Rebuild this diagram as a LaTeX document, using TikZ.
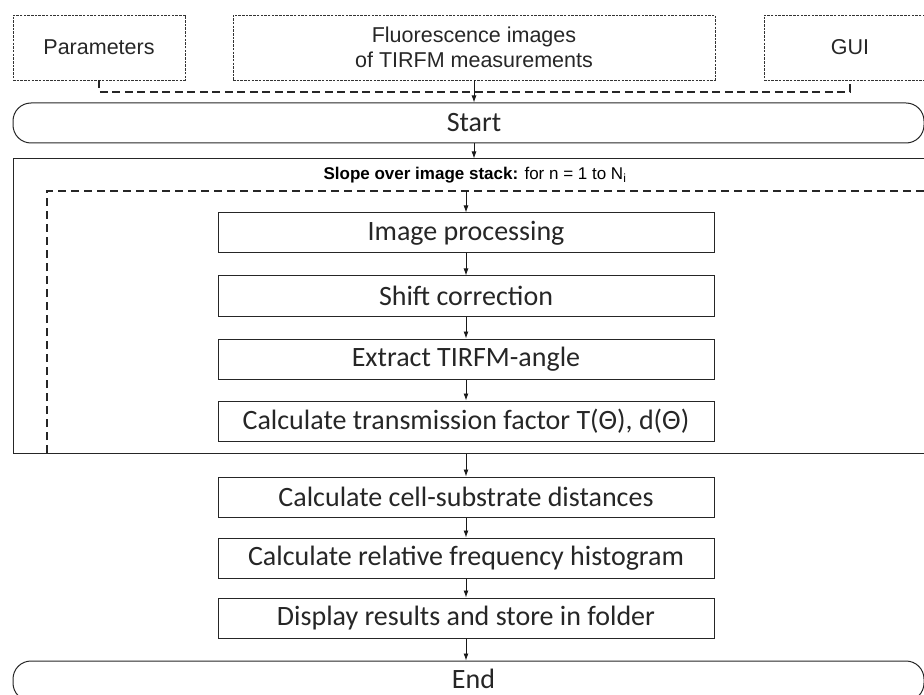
\documentclass[tikz,border=0pt]{standalone}
\usepackage{fontspec}
\setmainfont{Carlito}
\newfontfamily\arialf{Liberation Sans}
\usetikzlibrary{arrows.meta}
\begin{document}
\begin{tikzpicture}[x=1pt,y=-1pt,
  inbox/.style={draw=black!80, line width=0.9pt, dash pattern=on 2.5pt off 1.2pt, minimum height=65pt, inner sep=0pt, font=\arialf\fontsize{21.5}{25}\selectfont, align=center, text=black!85},
  procbox/.style={draw=black!85, line width=1pt, minimum width=496pt, minimum height=40pt, inner sep=0pt, font=\fontsize{28}{32}\selectfont, text=black!85},
  termbox/.style={draw=black!85, line width=1pt, rounded corners=18pt, minimum width=911pt, minimum height=40pt, inner sep=0pt},
  termtxt/.style={font=\fontsize{28}{32}\selectfont, text=black!85, inner sep=0pt},
  arr/.style={-{Latex[length=7pt,width=5pt]}, line width=0.9pt, black!90},
  dconn/.style={line width=1.7pt, dash pattern=on 8pt off 4.5pt, black!85},
  ldash/.style={line width=1.7pt, dash pattern=on 8pt off 5pt, black!85}]
\useasboundingbox (0,0) rectangle (924,695);
% input boxes
\node[inbox, minimum width=172pt] (par) at (99,47.5) {Parameters};
\node[inbox, minimum width=482pt] (flu) at (474,47.5) {Fluorescence images\\of TIRFM measurements};
\node[inbox, minimum width=172pt] (gui) at (850,47.5) {GUI};
% start
\node[termbox] (start) at (468.5,123) {};
\node[termtxt] (starttxt) at (474,123) {Start};
\coordinate (j) at (474,92);
\draw[dconn] (par.south) |- (j) -| (gui.south);
\draw[arr] (flu.south) -- (start.north -| flu.south);
% loop
\node[draw=black!85, line width=1pt, minimum width=917pt, minimum height=294pt, inner sep=0pt] (loop) at (471.5,306) {};
\draw[arr] (start.south -| flu.south) -- (loop.north -| flu.south);
\node[font=\arialf\fontsize{17}{20}\selectfont, text=black] (lbl) at (475,175) {\textbf{Slope over image stack:} for n = 1 to N\textsubscript{i}};
\coordinate (dl) at (47,453);
\coordinate (dt) at (47,191);
\coordinate (dr) at (935,191);
\draw[ldash] (dl) -- (dt) -- (dr);
% process boxes
\node[procbox] (b1) at (466,233) {Image processing};
\node[procbox] (b2) at (466,296) {Shift correction};
\node[procbox] (b3) at (466,359) {Extract TIRFM-angle};
\node[procbox] (b4) at (466,421) {Calculate transmission factor T(Θ), d(Θ)};
\node[procbox] (c1) at (466,497) {Calculate cell-substrate distances};
\node[procbox] (c2) at (466,558) {Calculate relative frequency histogram};
\node[procbox] (c3) at (466,618) {Display results and store in folder};
\node[termbox] (fin) at (468.5,681) {};
\node[termtxt] (fintxt) at (473.5,679) {End};
\coordinate (a0) at (466,191);
\draw[arr] (a0) -- (b1.north);
\draw[arr] (b1) -- (b2);
\draw[arr] (b2) -- (b3);
\draw[arr] (b3) -- (b4);
\draw[arr] (loop.south -| b4.south) -- (c1.north);
\draw[arr] (c1) -- (c2);
\draw[arr] (c2) -- (c3);
\draw[arr] (c3.south) -- (fin.north -| c3.south);
\end{tikzpicture}
\end{document}
